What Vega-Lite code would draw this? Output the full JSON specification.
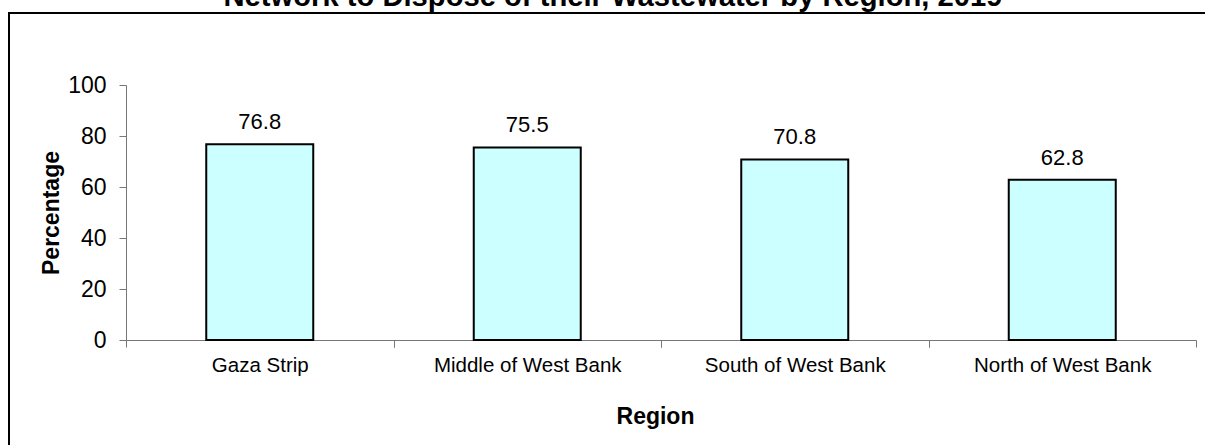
{
  "$schema": "https://vega.github.io/schema/vega-lite/v6.json",
  "autosize": "none",
  "width": 1201,
  "height": 437,
  "padding": {"left": 9, "top": 13, "right": -5, "bottom": -5},
  "background": "white",
  "config": {
    "view": {"stroke": "#000000", "strokeWidth": 2},
    "font": "Liberation Sans"
  },
  "title": {
    "text": "Network to Dispose of their Wastewater by Region, 2019",
    "font": "Liberation Sans",
    "fontSize": 29.2,
    "fontWeight": "bold",
    "color": "#000000",
    "anchor": "middle",
    "frame": "group",
    "baseline": "alphabetic",
    "offset": -22.5,
    "dx": 3.5
  },
  "data": {
    "values": [
      {"region": "Gaza Strip", "pct": 76.8},
      {"region": "Middle of West Bank", "pct": 75.5},
      {"region": "South of West Bank", "pct": 70.8},
      {"region": "North of West Bank", "pct": 62.8}
    ]
  },
  "encoding": {
    "y": {
      "field": "pct",
      "type": "quantitative",
      "scale": {"domain": [0, 100], "range": [327, 72], "nice": false, "zero": true},
      "axis": {
        "title": "Percentage",
        "values": [0, 20, 40, 60, 80, 100],
        "grid": false,
        "offset": -117,
        "domainColor": "#777777",
        "domainWidth": 1,
        "tickColor": "#777777",
        "tickWidth": 1,
        "tickSize": 7,
        "labelFont": "Liberation Sans",
        "labelFontSize": 23,
        "labelColor": "#000000",
        "labelPadding": 13,
        "titleFont": "Liberation Sans",
        "titleFontSize": 23,
        "titleFontWeight": "bold",
        "titleColor": "#000000",
        "titlePadding": 4
      }
    }
  },
  "layer": [
    {
      "mark": {"type": "bar", "fill": "#CCFFFF", "stroke": "#000000", "strokeWidth": 2},
      "encoding": {
        "x": {
          "field": "region",
          "type": "nominal",
          "sort": null,
          "scale": {"range": [117, 1187], "paddingInner": 0.6, "paddingOuter": 0.3},
          "axis": {
            "orient": "bottom",
            "offset": -110,
            "title": "Region",
            "titleX": 646,
            "labelAngle": 0,
            "labelLimit": 0,
            "tickOffset": -133.75,
            "labelOffset": 133.75,
            "domainColor": "#777777",
            "domainWidth": 1,
            "tickColor": "#777777",
            "tickWidth": 1,
            "tickSize": 7,
            "labelFont": "Liberation Sans",
            "labelFontSize": 20.5,
            "labelColor": "#000000",
            "labelPadding": 8,
            "titleFont": "Liberation Sans",
            "titleFontSize": 23,
            "titleFontWeight": "bold",
            "titleColor": "#000000",
            "titlePadding": 30
          }
        }
      }
    },
    {
      "mark": {"type": "text", "baseline": "alphabetic", "dy": -15, "font": "Liberation Sans", "fontSize": 22, "color": "#000000"},
      "encoding": {
        "x": {
          "field": "region",
          "type": "nominal",
          "sort": null,
          "scale": {"range": [117, 1187], "paddingInner": 0.6, "paddingOuter": 0.3},
          "axis": {
            "orient": "bottom",
            "offset": -110,
            "title": null,
            "labels": false,
            "domain": false,
            "tickOffset": 133.75,
            "tickColor": "#777777",
            "tickWidth": 1,
            "tickSize": 7
          }
        },
        "text": {"field": "pct", "type": "quantitative", "format": ".1f"}
      }
    }
  ],
  "resolve": {"axis": {"x": "independent"}}
}
